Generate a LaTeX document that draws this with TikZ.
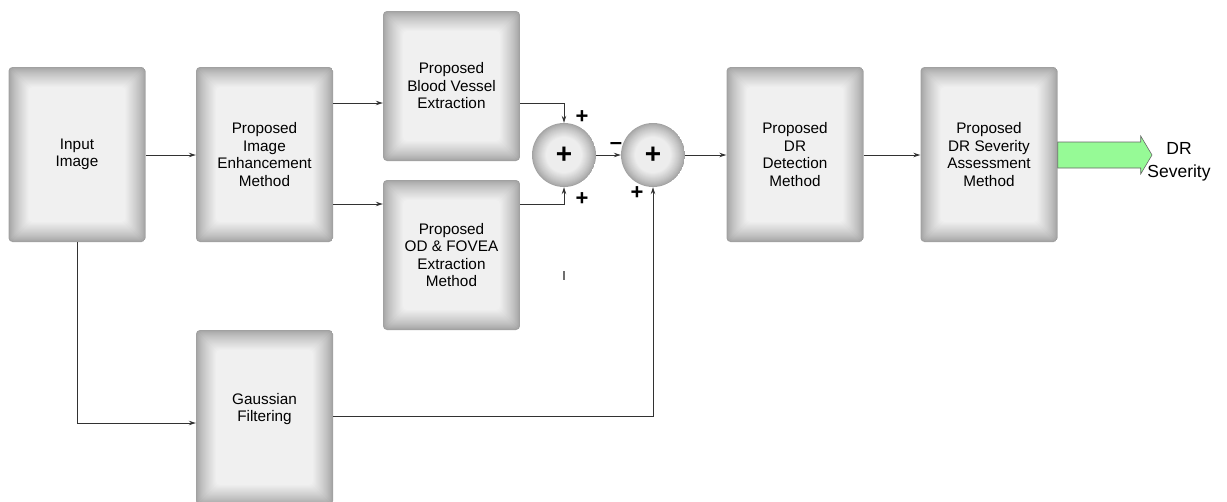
\documentclass[tikz,border=0pt]{standalone}
\usepackage{fontspec}
\setmainfont{Liberation Sans}
\usetikzlibrary{arrows.meta,positioning,calc}
\definecolor{arrowgreen}{RGB}{150,250,150}
\definecolor{wiregray}{RGB}{50,50,50}
\newcommand{\boxfont}{\fontsize{15.3}{17.5}\selectfont}

\begin{document}
\begin{tikzpicture}[x=1pt, y=-1pt, >={Stealth[length=7pt,width=4.5pt]},
      glowbox/.style={rounded corners=4pt, minimum width=137pt,
                      minimum height=175pt, align=center, font=\boxfont,
                      path picture={
                        \foreach \i in {0,...,20}{
                          \pgfmathsetmacro\glowlvl{37-31*(\i/20)^0.75}
                          \fill[black!\glowlvl, rounded corners=4pt]
                            ([shift={(\i pt,-\i pt)}]path picture bounding box.north west)
                            rectangle ([shift={(-\i pt,\i pt)}]path picture bounding box.south east);
                        }}},
      shortbox/.style={glowbox, minimum height=150pt},
      sumnode/.style={circle, minimum size=64pt, inner sep=0pt,
                      font=\bfseries\fontsize{28}{28}\selectfont,
                      path picture={
                        \foreach \i in {0,...,14}{
                          \pgfmathsetmacro\glowlvl{36-29*(\i/14)^0.8}
                          \fill[black!\glowlvl] (path picture bounding box.center)
                            circle[radius=32pt-\i pt];
                        }}},
      sign/.style={font=\bfseries\fontsize{22}{22}\selectfont, inner sep=0pt},
      arr/.style={->, wiregray, line width=0.8pt}
    ]
    \useasboundingbox (0,0) rectangle (1227,501);

    % processing blocks
    \node[glowbox] (input) at (77,154.5) {Input\\Image};
    \node[glowbox] (enhance) at (264.5,154.5) {Proposed\\Image\\Enhancement\\Method};
    \node[shortbox] (vessel) at (451.5,86) {Proposed\\Blood Vessel\\Extraction};
    \node[shortbox] (fovea) at (451.5,255) {Proposed\\OD \& FOVEA\\Extraction\\Method};
    \node[glowbox, text depth=20pt] (gauss) at (264.5,417.5) {Gaussian\\Filtering};
    \node[glowbox] (detect) at (795,154.5) {Proposed\\DR\\Detection\\Method};
    \node[glowbox] (severity) at (989,154.5) {Proposed\\DR Severity\\Assessment\\Method};

    % summing junctions
    \node[sumnode] (sumA) at (564,155) {+};
    \node[sumnode] (sumB) at (653,155) {+};

    \node[sign] at (582,117) {+};
    \node[sign] at (582,199) {+};
    \node[sign] at (616,146) {--};
    \node[sign] at (637,193) {+};

    % connectors
    \draw[arr] (input.east |- 0,155) -- (enhance.west |- 0,155);
    \draw[arr] (enhance.east |- 0,103) -- (vessel.west |- 0,103);
    \draw[arr] (enhance.east |- 0,204) -- (fovea.west |- 0,204);
    \draw[arr] (vessel.east |- 0,103) -| (sumA.north);
    \draw[arr] (fovea.east |- 0,204) -| (sumA.south);
    \draw[arr] (sumA) -- (sumB);
    \draw[arr] (sumB) -- (detect.west |- sumB);
    \draw[arr] (detect.east |- 0,155) -- (severity.west |- 0,155);
    \draw[arr] (input.south) |- (gauss.west |- 0,423);
    \draw[arr] (gauss.east |- 0,416) -| (sumB.south);
    \draw[wiregray!70, line width=1.3pt] (564,271) -- (564,280);

    % output arrow
    \coordinate (tail) at (severity.east |- 0,155);
    \draw[fill=arrowgreen, draw=black!60, line width=0.6pt]
      ($(tail)+(0,-13)$) -- ++(83,0) -- ++(0,-6) -- (1152,155)
      -- ($(tail)+(83,19)$) -- ++(0,-6) -- ($(tail)+(0,13)$) -- cycle;
    \node[font=\fontsize{17.5}{22.5}\selectfont, align=center] (result) at (1179,162) {DR\\Severity};
  \end{tikzpicture}
\end{document}
